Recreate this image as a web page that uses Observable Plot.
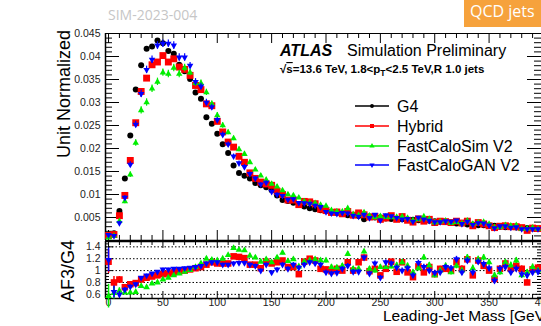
<!DOCTYPE html>
<html><head><meta charset="utf-8">
<script src="https://cdn.jsdelivr.net/npm/d3@7"></script>
<script src="https://cdn.jsdelivr.net/npm/@observablehq/plot@0.6"></script>
<style>
body{margin:0;background:#fff;}
#wrap{position:relative;width:541px;height:326px;overflow:hidden;font-family:"Liberation Sans",Arial,sans-serif;background:#fff;}
#wrap svg{position:absolute;left:0;}
</style></head><body><div id="wrap"></div>
<script>
// ---- data ----
const massGeV = [0,5,10,15,20,25,30,35,40,45,50,55,60,65,70,75,80,85,90,95,100,105,110,115,120,125,130,135,140,145,150,155,160,165,170,175,180,185,190,195,200,205,210,215,220,225,230,235,240,245,250,255,260,265,270,275,280,285,290,295,300,305,310,315,320,325,330,335,340,345,350,355,360,365,370,375,380,385,390,395];
const g4 = [0.0010,0.0016,0.0064,0.0135,0.0228,0.0328,0.0381,0.0417,0.0422,0.0435,0.0429,0.0412,0.0406,0.0382,0.0368,0.0351,0.0322,0.0308,0.0268,0.0254,0.0232,0.0209,0.0190,0.0163,0.0147,0.0141,0.0135,0.0125,0.0120,0.0116,0.0109,0.0098,0.0088,0.0086,0.0082,0.0078,0.0074,0.0070,0.0068,0.0066,0.0064,0.0062,0.0060,0.0058,0.0055,0.0055,0.0053,0.0046,0.0052,0.0050,0.0050,0.0048,0.0047,0.0047,0.0046,0.0045,0.0045,0.0044,0.0043,0.0043,0.0042,0.0041,0.0040,0.0039,0.0037,0.0037,0.0035,0.0035,0.0033,0.0033,0.0032,0.0032,0.0030,0.0029,0.0029,0.0028,0.0027,0.0027,0.0026,0.0025];
const hybrid = [0.0011,0.0013,0.0054,0.0098,0.0174,0.0256,0.0324,0.0353,0.0382,0.0388,0.0402,0.0388,0.0395,0.0377,0.0372,0.0359,0.0337,0.0328,0.0297,0.0293,0.0259,0.0236,0.0214,0.0203,0.0183,0.0170,0.0147,0.0135,0.0127,0.0123,0.0120,0.0107,0.0100,0.0088,0.0088,0.0078,0.0085,0.0084,0.0080,0.0068,0.0065,0.0061,0.0062,0.0058,0.0063,0.0055,0.0060,0.0056,0.0051,0.0052,0.0046,0.0049,0.0054,0.0046,0.0052,0.0044,0.0040,0.0047,0.0042,0.0046,0.0039,0.0042,0.0041,0.0039,0.0042,0.0038,0.0042,0.0032,0.0039,0.0036,0.0032,0.0028,0.0031,0.0032,0.0030,0.0030,0.0028,0.0022,0.0027,0.0026];
const fastCaloSim = [0.0006,0.0010,0.0042,0.0085,0.0143,0.0212,0.0283,0.0300,0.0330,0.0345,0.0365,0.0362,0.0375,0.0362,0.0375,0.0365,0.0342,0.0342,0.0322,0.0297,0.0272,0.0250,0.0235,0.0222,0.0198,0.0188,0.0170,0.0154,0.0141,0.0132,0.0123,0.0117,0.0109,0.0100,0.0098,0.0093,0.0085,0.0082,0.0081,0.0077,0.0075,0.0066,0.0063,0.0063,0.0070,0.0057,0.0055,0.0061,0.0054,0.0050,0.0053,0.0051,0.0050,0.0051,0.0052,0.0049,0.0044,0.0046,0.0052,0.0047,0.0039,0.0041,0.0043,0.0038,0.0040,0.0037,0.0043,0.0036,0.0039,0.0040,0.0036,0.0029,0.0029,0.0033,0.0032,0.0033,0.0025,0.0026,0.0028,0.0025];
const fastCaloGAN = [0.0012,0.0010,0.0038,0.0093,0.0165,0.0252,0.0319,0.0371,0.0393,0.0424,0.0428,0.0428,0.0424,0.0398,0.0398,0.0380,0.0345,0.0335,0.0300,0.0290,0.0262,0.0230,0.0209,0.0183,0.0168,0.0160,0.0145,0.0135,0.0122,0.0126,0.0106,0.0100,0.0097,0.0089,0.0090,0.0082,0.0081,0.0080,0.0076,0.0073,0.0062,0.0059,0.0058,0.0060,0.0059,0.0054,0.0052,0.0056,0.0049,0.0056,0.0044,0.0055,0.0053,0.0049,0.0046,0.0047,0.0041,0.0050,0.0046,0.0043,0.0040,0.0040,0.0042,0.0041,0.0044,0.0036,0.0041,0.0034,0.0038,0.0037,0.0033,0.0027,0.0031,0.0031,0.0028,0.0029,0.0025,0.0025,0.0025,0.0025];
const mainErr = [0.0002,0.0003,0.0004,0.0005,0.0006,0.0007,0.0008,0.0008,0.0008,0.0008,0.0008,0.0008,0.0008,0.0008,0.0008,0.0007,0.0007,0.0007,0.0007,0.0006,0.0006,0.0006,0.0005,0.0005,0.0005,0.0005,0.0004,0.0004,0.0004,0.0004,0.0004,0.0004,0.0003,0.0003,0.0003,0.0003,0.0003,0.0003,0.0003,0.0003,0.0003,0.0003,0.0003,0.0003,0.0003,0.0002,0.0002,0.0002,0.0002,0.0002,0.0002,0.0002,0.0002,0.0002,0.0002,0.0002,0.0002,0.0002,0.0002,0.0002,0.0002,0.0002,0.0002,0.0002,0.0002,0.0002,0.0002,0.0002,0.0002,0.0002,0.0002,0.0002,0.0002,0.0002,0.0002,0.0002,0.0002,0.0002,0.0002,0.0002];
const ratioHybrid = [1.15,0.80,0.85,0.72,0.77,0.79,0.85,0.88,0.90,0.92,0.94,0.95,0.97,0.99,1.00,1.02,1.04,1.06,1.10,1.14,1.12,1.12,1.12,1.24,1.23,1.21,1.10,1.10,1.04,1.15,1.12,1.14,1.17,1.06,1.06,0.94,1.15,1.20,1.17,1.03,1.02,0.99,1.03,1.00,1.14,1.00,1.14,1.22,0.99,1.03,0.92,1.03,1.15,0.98,1.14,0.97,0.89,1.07,0.97,1.06,0.94,1.03,1.03,1.00,1.14,1.03,1.19,0.92,1.17,1.08,1.00,0.86,1.03,1.12,1.03,1.08,1.03,0.80,1.02,1.05];
const ratioFastCaloSim = [0.57,0.62,0.66,0.63,0.63,0.64,0.74,0.72,0.78,0.80,0.85,0.88,0.92,0.95,0.98,1.01,1.06,1.12,1.20,1.18,1.17,1.20,1.26,1.38,1.35,1.34,1.25,1.22,1.15,1.19,1.14,1.22,1.30,1.16,1.19,1.07,1.15,1.17,1.19,1.17,1.17,1.06,1.05,1.08,1.28,1.03,1.03,1.32,1.03,1.00,1.06,1.06,1.07,1.09,1.14,1.08,0.97,1.04,1.22,1.09,0.92,1.00,1.08,0.97,1.08,1.00,1.22,1.04,1.19,1.22,1.14,0.92,0.97,1.14,1.09,1.17,0.92,0.97,1.06,1.00];
const ratioFastCaloGAN = [1.18,0.64,0.60,0.68,0.73,0.77,0.88,0.92,0.95,0.98,1.02,1.02,1.03,1.03,1.04,1.05,1.06,1.08,1.12,1.14,1.14,1.10,1.10,1.12,1.13,1.13,1.10,1.08,1.00,1.10,0.97,1.02,1.10,1.03,1.10,1.05,1.10,1.14,1.12,1.10,0.97,0.95,0.96,1.03,1.08,0.98,0.98,1.22,0.95,1.12,0.88,1.14,1.12,1.05,1.00,1.04,0.92,1.13,1.06,1.00,0.96,0.97,1.06,1.04,1.19,0.97,1.17,0.97,1.15,1.11,1.04,0.83,1.03,1.06,0.97,1.03,0.94,0.92,0.97,0.98];
const ratioErr = [0.20,0.10,0.05,0.035,0.03,0.025,0.02,0.02,0.02,0.02,0.02,0.02,0.02,0.02,0.02,0.02,0.02,0.02,0.025,0.025,0.025,0.025,0.025,0.03,0.03,0.03,0.03,0.03,0.03,0.03,0.03,0.03,0.035,0.035,0.035,0.035,0.035,0.035,0.035,0.035,0.04,0.04,0.04,0.04,0.04,0.04,0.04,0.04,0.04,0.04,0.04,0.04,0.04,0.045,0.045,0.045,0.045,0.045,0.045,0.045,0.045,0.045,0.045,0.045,0.05,0.05,0.05,0.05,0.05,0.05,0.05,0.05,0.05,0.05,0.05,0.05,0.05,0.05,0.05,0.05];
const seriesNames = ["G4","Hybrid","FastCaloSim V2","FastCaloGAN V2"];
const seriesColors = ["#000000","#ff0000","#00ee00","#0000ff"];
const yMainTicks = [0.005,0.01,0.015,0.02,0.025,0.03,0.035,0.04,0.045];
const ratioTicks = [0.6,0.8,1,1.2,1.4];
const massTicks = [0,50,100,150,200,250,300,350,400];
const massMinorTicks = [10,20,30,40,60,70,80,90,110,120,130,140,160,170,180,190,210,220,230,240,260,270,280,290,310,320,330,340,360,370,380,390];
const yMainMinor = [0.001,0.002,0.003,0.004,0.006,0.007,0.008,0.009,0.011,0.012,0.013,0.014,0.016,0.017,0.018,0.019,0.021,0.022,0.023,0.024,0.026,0.027,0.028,0.029,0.031,0.032,0.033,0.034,0.036,0.037,0.038,0.039,0.041,0.042,0.043,0.044];
const ratioMinor = [0.55,0.65,0.7,0.75,0.85,0.9,0.95,1.05,1.1,1.15,1.25,1.3,1.35,1.45];

// ---- tables ----
const mainRows = (arr) => massGeV.map((m, i) => ({m, v: arr[i], e: mainErr[i]}));
const ratioRows = (arr) => massGeV.map((m, i) => ({m, r: arr[i], e: ratioErr[i]}));

const W = 541, ML = 105;
const plotW = W - ML;
const xDom = [-2.8, 398.2];
const wrap = document.getElementById("wrap");

// ---- main pad ----
const mainH = 241, mainTop = 33, mainBot = 1;
const mainPH = mainH - mainTop - mainBot;
const main = Plot.plot({
  width: W, height: mainH, marginLeft: ML, marginRight: 0, marginTop: mainTop, marginBottom: mainBot,
  style: {background: "transparent", color: "#000", fontFamily: "Liberation Sans, Arial, sans-serif"},
  x: {domain: xDom, axis: null},
  y: {domain: [0, 0.045]},
  marks: [
    Plot.axisY({ticks: yMainTicks, anchor: "left", tickSize: 0, tickPadding: 5, fontSize: 10.5, fill: "#222", tickFormat: d => String(+d.toFixed(3)), label: null}),
    Plot.tickY(yMainTicks, {y: d => d, insetRight: plotW - 14, stroke: "#000"}),
    Plot.tickY(yMainMinor, {y: d => d, insetRight: plotW - 7, stroke: "#000"}),
    Plot.tickY(yMainTicks, {y: d => d, insetLeft: plotW - 14, stroke: "#000"}),
    Plot.tickY(yMainMinor, {y: d => d, insetLeft: plotW - 7, stroke: "#000"}),
    Plot.tickX(massTicks, {x: d => d, insetBottom: mainPH - 10, stroke: "#000"}),
    Plot.tickX(massMinorTicks, {x: d => d, insetBottom: mainPH - 5, stroke: "#000"}),
    Plot.tickX(massTicks, {x: d => d, insetTop: mainPH - 10, stroke: "#000"}),
    Plot.tickX(massMinorTicks, {x: d => d, insetTop: mainPH - 5, stroke: "#000"}),
    Plot.ruleX([xDom[0]], {stroke: "#000", strokeWidth: 1.5}),
    Plot.ruleY([0.045], {stroke: "#000", strokeWidth: 1.2}),
    Plot.ruleY([0], {stroke: "#000", strokeWidth: 1.5}),
    Plot.dot(mainRows(g4), {x: "m", y: "v", symbol: "circle", r: 3, fill: seriesColors[0], stroke: null}),
    Plot.dot(mainRows(hybrid), {x: "m", y: "v", symbol: "square", r: 3.9, fill: seriesColors[1], stroke: null}),
    Plot.ruleX(mainRows(fastCaloSim), {x: "m", y1: d => d.v - d.e, y2: d => d.v + d.e, stroke: seriesColors[2], strokeWidth: 1.2}),
    Plot.dot(mainRows(fastCaloSim), {x: "m", y: "v", symbol: "triangle", r: 2.4, fill: seriesColors[2], stroke: null}),
    Plot.ruleX(mainRows(fastCaloGAN), {x: "m", y1: d => d.v - d.e, y2: d => d.v + d.e, stroke: seriesColors[3], strokeWidth: 1.2}),
    Plot.dot(mainRows(fastCaloGAN), {x: "m", y: "v", symbol: "triangle", rotate: 180, r: 2.4, fill: seriesColors[3], stroke: null})
  ]
});
main.style.top = "0px";
wrap.appendChild(main);

// ---- ratio pad ----
const ratioTop = 240, ratioH = 86, rMT = 1, rMB = 28;
const ratioPH = ratioH - rMT - rMB;
const ratio = Plot.plot({
  width: W, height: ratioH, marginLeft: ML, marginRight: 0, marginTop: rMT, marginBottom: rMB,
  style: {background: "transparent", color: "#000", fontFamily: "Liberation Sans, Arial, sans-serif"},
  x: {domain: xDom},
  y: {domain: [0.53, 1.49]},
  marks: [
    Plot.ruleY(ratioTicks, {stroke: "#000", strokeDasharray: "1.5,2"}),
    Plot.axisY({ticks: ratioTicks, anchor: "left", tickSize: 0, tickPadding: 5, fontSize: 10.5, fill: "#222", tickFormat: d => String(d), label: null}),
    Plot.axisX({ticks: massTicks, anchor: "bottom", tickSize: 0, tickPadding: 0, fontSize: 10.5, fill: "#222", label: null}),
    Plot.tickY(ratioTicks, {y: d => d, insetRight: plotW - 8, stroke: "#000"}),
    Plot.tickY(ratioMinor, {y: d => d, insetRight: plotW - 4, stroke: "#000"}),
    Plot.tickY(ratioTicks, {y: d => d, insetLeft: plotW - 8, stroke: "#000"}),
    Plot.tickY(ratioMinor, {y: d => d, insetLeft: plotW - 4, stroke: "#000"}),
    Plot.tickX(massTicks, {x: d => d, insetTop: ratioPH - 7, stroke: "#000"}),
    Plot.tickX(massMinorTicks, {x: d => d, insetTop: ratioPH - 4, stroke: "#000"}),
    Plot.tickX(massTicks, {x: d => d, insetBottom: ratioPH - 7, stroke: "#000"}),
    Plot.tickX(massMinorTicks, {x: d => d, insetBottom: ratioPH - 4, stroke: "#000"}),
    Plot.ruleX([xDom[0]], {stroke: "#000", strokeWidth: 1.5}),
    Plot.ruleY([1.49], {stroke: "#000", strokeWidth: 1.5}),
    Plot.ruleY([0.53], {stroke: "#000", strokeWidth: 1.5}),
    Plot.ruleX(ratioRows(ratioHybrid), {x: "m", y1: d => d.r - d.e, y2: d => d.r + d.e, stroke: seriesColors[1], strokeWidth: 1.5}),
    Plot.dot(ratioRows(ratioHybrid), {x: "m", y: "r", symbol: "square", r: 3.7, fill: seriesColors[1], stroke: null}),
    Plot.ruleX(ratioRows(ratioFastCaloSim), {x: "m", y1: d => d.r - d.e, y2: d => d.r + d.e, stroke: seriesColors[2], strokeWidth: 1.5}),
    Plot.dot(ratioRows(ratioFastCaloSim), {x: "m", y: "r", symbol: "triangle", r: 2.5, fill: seriesColors[2], stroke: null}),
    Plot.ruleX(ratioRows(ratioFastCaloGAN), {x: "m", y1: d => d.r - d.e, y2: d => d.r + d.e, stroke: seriesColors[3], strokeWidth: 1.5}),
    Plot.dot(ratioRows(ratioFastCaloGAN), {x: "m", y: "r", symbol: "triangle", rotate: 180, r: 2.5, fill: seriesColors[3], stroke: null})
  ]
});
ratio.style.top = ratioTop + "px";
wrap.appendChild(ratio);

// ---- overlay: titles, labels, legend ----
const ov = d3.select(wrap).append("svg").attr("width", W).attr("height", 326)
  .style("top", "0px").style("pointer-events", "none")
  .style("font-family", "Liberation Sans, Arial, sans-serif");

ov.append("text").attr("x", 108).attr("y", 20).attr("fill", "#c6c6c6")
  .style("font-family", "Open Sans, sans-serif").attr("font-size", 14).text("SIM-2023-004");
ov.append("rect").attr("x", 464).attr("y", 0).attr("width", 80).attr("height", 27).attr("fill", "#f6a23c");
ov.append("text").attr("x", 470).attr("y", 17).attr("fill", "#fff")
  .style("font-family", "Open Sans, sans-serif").attr("font-size", 16).text("QCD jets");

ov.append("text").attr("x", 280).attr("y", 56).attr("font-size", 16).attr("font-weight", "bold")
  .attr("font-style", "italic").text("ATLAS");
ov.append("text").attr("x", 347).attr("y", 56).attr("font-size", 16).text("Simulation Preliminary");
const l2 = ov.append("text").attr("x", 280).attr("y", 73).attr("font-size", 11.5).attr("font-weight", "bold");
l2.append("tspan").text("√");
l2.append("tspan").attr("text-decoration", "overline").text("s");
l2.append("tspan").text("=13.6 TeV, 1.8<p");
l2.append("tspan").attr("dy", 3).attr("font-size", 8.5).text("T");
l2.append("tspan").attr("dy", -3).text("<2.5 TeV,R 1.0 jets");

ov.append("text").attr("transform", "translate(70,30) rotate(-90)").attr("text-anchor", "end")
  .attr("font-size", 18).text("Unit Normalized");
ov.append("text").attr("transform", "translate(74,240) rotate(-90)").attr("text-anchor", "end")
  .attr("font-size", 18).text("AF3/G4");
ov.append("text").attr("x", 383).attr("y", 321).attr("font-size", 15.5).text("Leading-Jet Mass [GeV]");

const legY = [106, 126, 146, 165];
const legSym = [d3.symbolCircle, d3.symbolSquare, d3.symbolTriangle, d3.symbolTriangle];
const legSize = [12, 16, 12, 12];
seriesNames.forEach((name, i) => {
  const g = ov.append("g");
  g.append("line").attr("x1", 355).attr("x2", 389).attr("y1", legY[i]).attr("y2", legY[i])
    .attr("stroke", seriesColors[i]).attr("stroke-width", 1.5);
  g.append("path").attr("d", d3.symbol(legSym[i], legSize[i])())
    .attr("transform", `translate(372,${legY[i]})` + (i === 3 ? " rotate(180)" : ""))
    .attr("fill", seriesColors[i]);
  g.append("text").attr("x", 397).attr("y", legY[i] + 5.5).attr("font-size", 16).text(name);
});
</script></body></html>
